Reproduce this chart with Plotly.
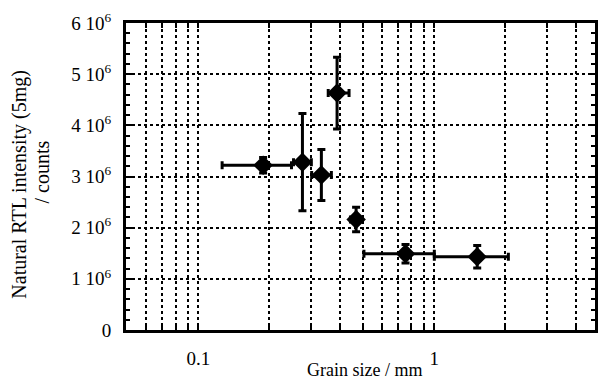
import plotly.graph_objects as go
import math

grain = [0.188, 0.276, 0.332, 0.387, 0.466, 0.755, 1.52]
grain_minus = [0.062, 0.023, 0.030, 0.032, 0.025, 0.252, 0.52]
grain_plus = [0.060, 0.025, 0.034, 0.048, 0.030, 0.245, 0.54]
rtl = [3.22e6, 3.28e6, 3.03e6, 4.63e6, 2.16e6, 1.49e6, 1.43e6]
rtl_err = [0.15e6, 0.95e6, 0.50e6, 0.70e6, 0.24e6, 0.18e6, 0.22e6]

x_grid = [0.06, 0.07, 0.08, 0.09, 0.1, 0.2, 0.3, 0.4, 0.5, 0.6, 0.7, 0.8, 0.9,
          1, 2, 3, 4]
x_text = ["0.1" if v == 0.1 else ("1" if v == 1 else "") for v in x_grid]
y_vals = [0, 1e6, 2e6, 3e6, 4e6, 5e6, 6e6]
y_text = ["0"] + [f"{i} 10<sup>6</sup>" for i in range(1, 7)]

font = "Liberation Serif"
L, T, B = 126, 23, 51
W, H = 598, 381
pw, ph = W - L, H - T - B

fig = go.Figure()
fig.add_trace(go.Scatter(
    x=grain, y=rtl, mode="markers",
    marker=dict(symbol="diamond", size=15, color="black"),
    error_x=dict(type="data", array=grain_plus, arrayminus=grain_minus,
                 color="black", thickness=3, width=4),
    error_y=dict(type="data", array=rtl_err, color="black", thickness=3, width=4),
    showlegend=False,
))

fig.update_layout(
    width=W, height=H,
    margin=dict(l=L, r=0, t=T, b=B),
    paper_bgcolor="white", plot_bgcolor="white",
    font=dict(family=font, size=19, color="black"),
    xaxis=dict(
        type="log", range=[math.log10(0.0493), math.log10(4.8)],
        tickvals=x_grid, ticktext=x_text,
        showgrid=True, gridcolor="black", griddash="dot", gridwidth=2,
        showline=True, linecolor="black", linewidth=3, mirror="ticks",
        ticks="inside", ticklen=5, tickwidth=2, tickcolor="black",
        ticklabelstandoff=9,
        zeroline=False,
    ),
    yaxis=dict(
        range=[0, 6e6],
        tickvals=y_vals, ticktext=y_text,
        showgrid=True, gridcolor="black", griddash="dot", gridwidth=2,
        showline=True, linecolor="black", linewidth=3, mirror="ticks",
        ticks="inside", ticklen=6, tickwidth=2, tickcolor="black",
        ticklabelstandoff=8,
        minor=dict(dtick=2e5, ticks="inside", ticklen=4, tickwidth=2,
                   tickcolor="black", showgrid=False),
        zeroline=False,
    ),
    annotations=[
        dict(text="Grain size / mm", xref="paper", yref="paper",
             x=(366 - L) / pw, y=(H - B - 370) / ph, xanchor="center", yanchor="middle",
             showarrow=False, font=dict(size=18)),
        dict(text="Natural RTL intensity (5mg)", xref="paper", yref="paper",
             x=(18 - L) / pw, y=(H - B - 184) / ph, xanchor="center", yanchor="middle",
             textangle=-90, showarrow=False, font=dict(size=20)),
        dict(text="/ counts", xref="paper", yref="paper",
             x=(41 - L) / pw, y=(H - B - 172) / ph, xanchor="center", yanchor="middle",
             textangle=-90, showarrow=False, font=dict(size=20)),
    ],
)

fig.write_html("out.html")
